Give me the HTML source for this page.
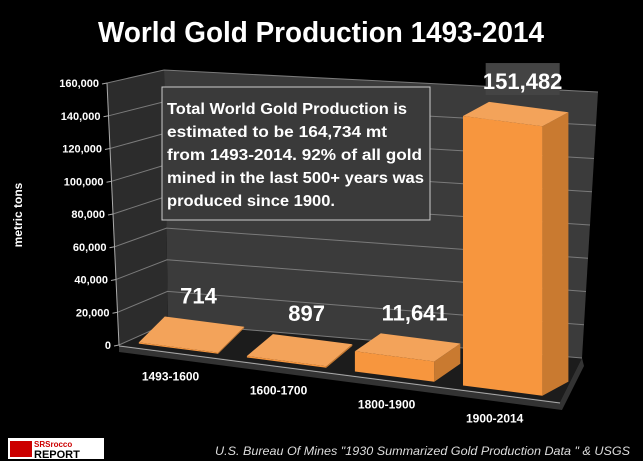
<!DOCTYPE html>
<html><head><meta charset="utf-8"><style>
html,body{margin:0;padding:0;background:#000;}
svg{display:block;font-family:"Liberation Sans",sans-serif;}
</style></head><body>
<svg id="chart" width="643" height="461" viewBox="0 0 643 461" xmlns="http://www.w3.org/2000/svg">
<rect width="643" height="461" fill="#000"/>
<text x="321" y="42" text-anchor="middle" fill="#fff" font-weight="bold" font-size="29" textLength="446" lengthAdjust="spacingAndGlyphs">World Gold Production 1493-2014</text>
<g id="walls"></g>
<g id="grid"></g>
<g id="bars"></g>
<g id="labels"></g>
<text transform="translate(22,215) rotate(-90)" text-anchor="middle" fill="#fff" font-weight="bold" font-size="12">metric tons</text>
<g>
<rect x="162" y="87" width="268" height="133" fill="#3a3a3a" stroke="#ccc" stroke-width="1"/>
<text fill="#fff" font-weight="bold" font-size="16">
<tspan x="167" y="114" textLength="240" lengthAdjust="spacingAndGlyphs">Total World Gold Production is</tspan>
<tspan x="167" y="137" textLength="220" lengthAdjust="spacingAndGlyphs">estimated to be 164,734 mt</tspan>
<tspan x="167" y="160" textLength="255" lengthAdjust="spacingAndGlyphs">from 1493-2014.  92% of all gold</tspan>
<tspan x="167" y="183" textLength="257" lengthAdjust="spacingAndGlyphs">mined in the last 500+ years was</tspan>
<tspan x="167" y="206" textLength="168" lengthAdjust="spacingAndGlyphs">produced since 1900.</tspan>
</text>
</g>
<g>
<rect x="8" y="438" width="96" height="21" fill="#fff"/>
<rect x="10" y="441" width="22" height="16" fill="#c00"/>
<text x="34" y="447" font-size="8" font-weight="bold" fill="#c00">SRSrocco</text>
<text x="34" y="458" font-size="11" font-weight="bold" fill="#000">REPORT</text>
</g>
<text x="630" y="455" text-anchor="end" fill="#ddd" font-style="italic" font-size="12" textLength="415" lengthAdjust="spacingAndGlyphs">U.S. Bureau Of Mines "1930 Summarized Gold Production Data "  &amp; USGS</text>
</svg>
<script>
const categories = ["1493-1600","1600-1700","1800-1900","1900-2014"];
const values = [714, 897, 11641, 151482];
const valueLabels = ["714","897","11,641","151,482"];
const yTicks = [0,20000,40000,60000,80000,100000,120000,140000,160000];
const yTickLabels = ["0","20,000","40,000","60,000","80,000","100,000","120,000","140,000","160,000"];
const yMax = 160000;

const NS = "http://www.w3.org/2000/svg";
function mk(tag, attrs, parent){const e=document.createElementNS(NS,tag);for(const k in attrs)e.setAttribute(k,attrs[k]);parent.appendChild(e);return e;}
const pts = a => a.map(p=>p[0].toFixed(1)+","+p[1].toFixed(1)).join(" ");
function front(u){return [119+u*441, 345+u*57];}
function hScale(u){return 262+26*u;}
function yPix(v,u){return v/yMax*hScale(u);}

const walls=document.getElementById('walls');
const grid=document.getElementById('grid');
const bars=document.getElementById('bars');
const labels=document.getElementById('labels');
const BL=[168,323], BR=[582,358], TL=[164,70], TR=[598,92];
const FAb=[119,345], FAt=[107,83];
let w=mk('polygon',{points:pts([TL,TR,BR,BL]),fill:'#3b3b3b'},walls);


w=mk('polygon',{points:pts([FAt,TL,BL,FAb]),fill:'#2c2c2c'},walls);


w=mk('polygon',{points:pts([FAb,BL,BR,[560,402]]),fill:'#1c1c1c'},walls);


mk('polygon',{points:pts([[560,402],BR,[584,366],[562,410],[119,352],FAb]),fill:'#333'},walls);
const lerp=(a,b,t)=>[a[0]+(b[0]-a[0])*t,a[1]+(b[1]-a[1])*t];
yTicks.forEach((v,i)=>{
  const t=v/yMax;
  const bl=lerp(BL,TL,t), br=lerp(BR,TR,t), fa=lerp(FAb,FAt,t);
  let g=mk('polyline',{points:pts([fa,bl,br]),fill:'none',stroke:'#7a7a7a','stroke-width':1},grid);
  
  
  mk('line',{x1:fa[0]-5,y1:fa[1]+1,x2:fa[0],y2:fa[1],stroke:'#aaa'},grid);
  let tx=mk('text',{x:fa[0]-8,y:fa[1]+4,'text-anchor':'end',fill:'#fff','font-size':11,'font-weight':'bold'},labels);
  tx.textContent=yTickLabels[i];
  
  
});
mk('line',{x1:FAb[0],y1:FAb[1],x2:FAt[0],y2:FAt[1],stroke:'#aaa'},grid);
mk('line',{x1:119,y1:346,x2:560,y2:403,stroke:'#aaa'},grid);

categories.forEach((c,i)=>{
  const u0=0.045+i*0.245, u1=u0+0.18, uc=(u0+u1)/2;
  const d=[26,-28+16*uc];
  const f0=front(u0), f1=front(u1);
  const b0=[f0[0],f0[1]-4], b1=[f1[0],f1[1]-4];
  const h=yPix(values[i],uc);
  const t0=[b0[0],b0[1]-h], t1=[b1[0],b1[1]-h];
  const add=p=>[p[0]+d[0],p[1]+d[1]];
  const g=mk('g',{},bars);
  
  
  mk('polygon',{points:pts([b1,add(b1),add(t1),t1]),fill:'#c97a30'},g);
  mk('polygon',{points:pts([t0,t1,add(t1),add(t0)]),fill:'#f3a35a'},g);
  mk('polygon',{points:pts([b0,b1,t1,t0]),fill:'#f7963e'},g);
  const top=add(lerp(t0,t1,0.5));
  let lx=top[0]-6, ly=top[1]-12;
  if(i===3){
    let r=mk('rect',{x:lx-37,y:ly-32,width:74,height:32,fill:'#444'},labels);
    
    
  }
  let vt=mk('text',{x:lx,y:ly-6,'text-anchor':'middle',fill:'#fff','font-size':22,'font-weight':'bold'},labels);
  vt.textContent=valueLabels[i];
  
  
  const fc=front(uc);
  let ct=mk('text',{x:fc[0]-8,y:fc[1]+28,'text-anchor':'middle',fill:'#fff','font-size':12,'font-weight':'bold'},labels);
  ct.textContent=c;
  
  
});
</script>
</body></html>
